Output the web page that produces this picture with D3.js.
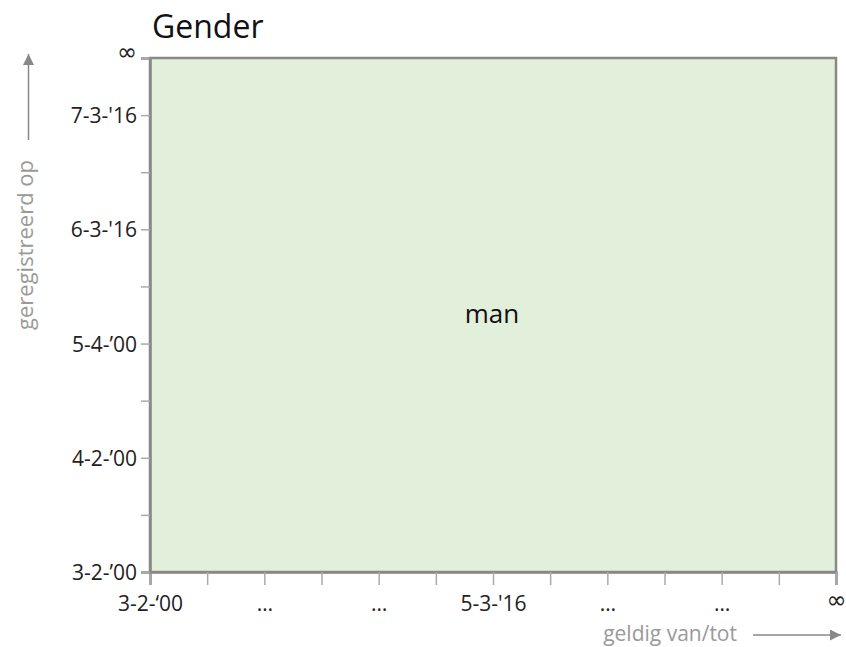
<!DOCTYPE html>
<html>
<head>
<meta charset="utf-8">
<script src="https://cdn.jsdelivr.net/npm/d3@7"></script>
<style>
  body { margin: 0; background: #fff; }
  text { font-family: "Open Sans", "Noto Sans", sans-serif; }
</style>
</head>
<body>
<div id="chart"></div>
<script>
  // tick labels ('' = unlabeled minor tick)
  var xTicks = ['3-2-\u201800', '', '\u2026', '', '\u2026', '', '5-3-\'16', '', '\u2026', '', '\u2026', '', '\u221e'];
  var yTicks = ['3-2-\u201900', '', '4-2-\u201900', '', '5-4-\u201900', '', '6-3-\'16', '', '7-3-\'16', '\u221e'];
  // single region: valid from first to last x tick, registered from first to last y tick
  var regions = [{ label: 'man', x0: 0, x1: 12, y0: 0, y1: 9 }];

  var width = 846, height = 647;
  var margin = { top: 58, right: 10, bottom: 75, left: 150 };

  var svg = d3.select('#chart').append('svg')
    .attr('width', width)
    .attr('height', height);

  var x = d3.scaleLinear().domain([0, xTicks.length - 1]).range([margin.left, width - margin.right]);
  var y = d3.scaleLinear().domain([0, yTicks.length - 1]).range([height - margin.bottom, margin.top]);

  svg.append('text')
    .attr('x', 152).attr('y', 38)
    .style('font-size', '32px')
    .attr('fill', '#111')
    .text('Gender');

  svg.selectAll('.region')
    .data(regions)
    .enter().append('rect')
    .attr('class', 'region')
    .attr('x', function (d) { return x(d.x0); })
    .attr('y', function (d) { return y(d.y1); })
    .attr('width', function (d) { return x(d.x1) - x(d.x0); })
    .attr('height', function (d) { return y(d.y0) - y(d.y1); })
    .attr('fill', '#e2efda')
    .attr('stroke', '#888')
    .attr('stroke-width', 2.5);

  svg.selectAll('.region-label')
    .data(regions)
    .enter().append('text')
    .attr('x', function (d) { return (x(d.x0) + x(d.x1)) / 2 - 1; })
    .attr('y', function (d) { return (y(d.y0) + y(d.y1)) / 2 + 8; })
    .attr('text-anchor', 'middle')
    .style('font-size', '26px')
    .attr('fill', '#111')
    .text(function (d) { return d.label; });

  /* x axis */
  var xAxis = d3.axisBottom(x)
    .tickValues(d3.range(xTicks.length))
    .tickSize(13)
    .tickPadding(6)
    .tickFormat(function (i) { return xTicks[i]; });
  var gx = svg.append('g')
    .attr('transform', 'translate(0,' + y(0) + ')')
    .call(xAxis);
  gx.select('.domain').attr('stroke', '#888').attr('stroke-width', 2.5);
  gx.selectAll('.tick line').attr('stroke', '#aaa').attr('stroke-width', 1.5);
  gx.selectAll('.tick text')
    .style('font-size', '21px')
    .attr('fill', '#222')
    .attr('dy', '0.95em');
  gx.selectAll('.tick text').filter(function (d) { return d === xTicks.length - 1; })
    .style('font-family', '"DejaVu Sans", sans-serif')
    .style('font-size', '24px')
    .attr('dy', '0.72em');

  /* y axis */
  var yAxis = d3.axisLeft(y)
    .tickValues(d3.range(yTicks.length))
    .tickSize(9)
    .tickPadding(4)
    .tickFormat(function (i) { return yTicks[i]; });
  var gy = svg.append('g')
    .attr('transform', 'translate(' + x(0) + ',0)')
    .call(yAxis);
  gy.select('.domain').attr('stroke', '#888').attr('stroke-width', 2.5);
  gy.selectAll('.tick line').attr('stroke', '#aaa').attr('stroke-width', 1.5);
  gy.selectAll('.tick text')
    .style('font-size', '21px')
    .attr('fill', '#222')
    .attr('dy', '0.36em');
  gy.selectAll('.tick text').filter(function (d) { return d === yTicks.length - 1; })
    .style('font-family', '"DejaVu Sans", sans-serif')
    .style('font-size', '24px')
    .attr('dy', '0.05em');

  /* axis titles with arrows */
  svg.append('defs').append('marker')
    .attr('id', 'arrow')
    .attr('viewBox', '0 0 10 10')
    .attr('refX', 10).attr('refY', 5)
    .attr('markerWidth', 11).attr('markerHeight', 11)
    .attr('markerUnits', 'userSpaceOnUse')
    .attr('orient', 'auto')
    .append('path')
    .attr('d', 'M0,0L10,5L0,10Z')
    .attr('fill', '#888');

  svg.append('text')
    .attr('x', 737).attr('y', 641)
    .attr('text-anchor', 'end')
    .style('font-size', '21px')
    .attr('fill', '#9a9a9a')
    .text('geldig van/tot');
  svg.append('line')
    .attr('x1', 753).attr('y1', 635).attr('x2', 841).attr('y2', 635)
    .attr('stroke', '#888').attr('stroke-width', 1.5)
    .attr('marker-end', 'url(#arrow)');

  svg.append('text')
    .attr('transform', 'translate(33,330) rotate(-90)')
    .attr('text-anchor', 'start')
    .style('font-size', '22px')
    .attr('fill', '#9a9a9a')
    .text('geregistreerd op');
  svg.append('line')
    .attr('x1', 28.5).attr('y1', 140).attr('x2', 28.5).attr('y2', 54)
    .attr('stroke', '#888').attr('stroke-width', 1.5)
    .attr('marker-end', 'url(#arrow)');
</script>
</body>
</html>
